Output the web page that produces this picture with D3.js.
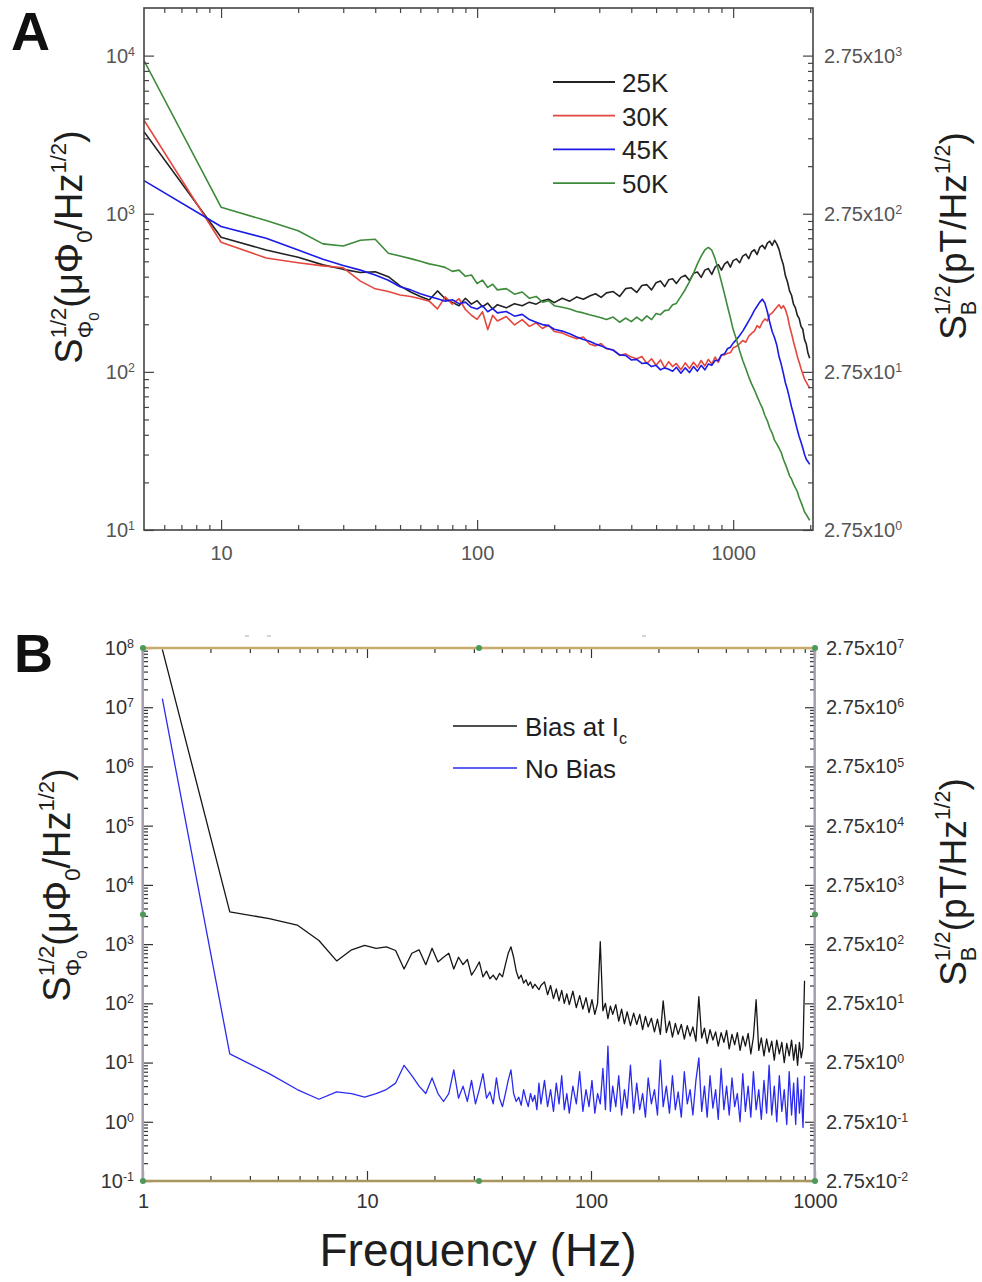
<!DOCTYPE html>
<html>
<head>
<meta charset="utf-8">
<title>Flux noise spectra</title>
<script src="https://cdn.jsdelivr.net/npm/d3@7/dist/d3.min.js"></script>
<style>
  body { margin: 0; background: #fff; }
  svg { display: block; }
  text { font-family: "Liberation Sans", Arial, sans-serif; }
</style>
</head>
<body>
<svg id="chart" width="982" height="1282"></svg>
<script>
// ---- Panel A: noise vs temperature ----
const freqA = [5, 10, 15, 20, 25, 30, 35, 40, 45, 50, 55, 60, 65, 70, 75, 80, 85, 90, 95, 100,
  105, 110, 115, 120, 130, 140, 150, 160, 170, 180, 190, 200,
  215, 230, 245, 260, 275, 290, 305, 320,
  340, 360, 380, 400, 420, 440, 460, 480, 500, 520, 540, 560, 580, 600,
  625, 650, 675, 700, 725, 750, 775, 800, 825, 850, 875, 900, 925, 950, 975, 1000,
  1030, 1060, 1090, 1120, 1150, 1180, 1210, 1240, 1270, 1300, 1330, 1360, 1390, 1420, 1450, 1480, 1510,
  1540, 1570, 1600, 1630, 1660, 1690, 1720, 1750, 1780, 1810, 1840, 1870, 1900, 1930, 1960, 1990];

const noise25K = [3300, 710, 590, 530, 475, 445, 425, 430, 400, 350, 320, 300, 285, 325, 290, 275, 262, 292, 268, 282,
  258, 272, 250, 266, 254, 270, 262, 276, 268, 282, 288, 274,
  292, 280, 298, 288, 302, 312, 296, 316,
  322, 300, 336, 340, 318, 352, 356, 330, 366, 376, 346, 382, 388, 362,
  396, 408, 378, 420, 428, 396, 440, 450, 414, 460, 476, 440, 480, 498, 460, 505,
  518, 490, 540, 556, 520, 574, 592, 552, 612, 632, 600, 652, 670, 630, 680, 645, 595,
  525, 475, 405, 370, 325, 305, 268, 254, 228, 218, 194, 186, 160, 150, 131, 122];

const noise30K = [3900, 660, 525, 490, 468, 455, 375, 335, 322, 306, 300, 290, 280, 250, 298, 268, 290, 248, 228, 215,
  240, 185, 228, 210, 224, 198, 214, 194, 204, 188, 198, 180,
  176, 168, 162, 166, 150, 146, 151, 140,
  138, 127, 130, 124, 121, 125, 113, 121, 110, 119, 106, 116, 108, 113,
  103, 114, 105, 115, 107, 118, 109, 120, 112, 124, 115, 128, 128, 131, 132, 142,
  145, 151, 158, 154, 168, 175, 181, 196, 190, 206, 216, 210, 230, 236, 246, 256, 266,
  252, 262, 248, 225, 195, 175, 155, 140, 125, 115, 105, 97, 90, 86, 82, 80];

const noise45K = [1620, 830, 700, 590, 515, 470, 440, 410, 380, 345, 330, 312, 300, 290, 280, 286, 270, 276, 256, 250,
  262, 240, 251, 236, 241, 225, 231, 214, 206, 199, 196, 186,
  181, 174, 166, 160, 156, 150, 146, 141,
  137, 128, 127, 119, 120, 113, 114, 108, 110, 103, 106, 104, 101, 107,
  98, 106, 99, 108, 101, 110, 103, 112, 110, 118, 118, 128, 130, 140, 143, 152,
  160, 170, 181, 195, 210, 226, 245, 260, 276, 288, 272, 240, 205, 180, 165, 148, 125,
  112, 98, 85, 77, 68, 60, 54, 48, 43, 39, 36, 33, 30, 28, 27, 26];

const noise50K = [9300, 1100, 905, 780, 645, 625, 680, 690, 562, 540, 520, 500, 482, 470, 458, 432, 440, 402, 410, 362,
  380, 342, 358, 330, 336, 310, 320, 292, 300, 276, 282, 262,
  256, 250, 241, 236, 230, 225, 220, 214,
  222, 206, 219, 208, 222, 210, 226, 214, 234, 230, 244, 246, 266, 271,
  300, 332, 372, 420, 482, 540, 590, 612, 588, 520, 440, 370, 310, 260, 220, 185,
  160, 136, 118, 105, 93, 84, 77, 70, 64, 59, 53, 49, 44, 41, 37, 35, 33, 31, 28,
  26, 24, 22, 21, 19.5, 18.5, 17.5, 16, 15, 14, 13, 12.5, 12, 11.5];

const labelsA = ["25K", "30K", "45K", "50K"];
const colorsA = ["#222222", "#e4473d", "#1b1be8", "#3d8a3a"];

// ---- Panel B: biased vs unbiased ----
const freqB = [1.22, 2.44, 3.66, 4.88, 6.10, 7.32, 8.54, 9.76, 10.98, 12.20,
  13.42, 14.64, 15.86, 17.08, 18.30, 19.52, 20.74, 21.96, 23.18, 24.40,
  25.62, 26.84, 28.06, 29.28, 30.50, 31.72, 32.94, 34.16, 35.38, 36.60,
  37.82, 39.04, 40.26, 41.48, 42.70, 43.92, 45.14, 46.36, 47.58, 48.80,
  50.02, 51.24, 52.46, 53.68, 54.90, 56.12, 57.34, 58.56, 59.78,
  62, 64, 66, 68, 70, 72, 74, 76, 78, 80,
  83, 86, 89, 92, 95, 98, 101, 104, 107, 110,
  113, 116, 119, 122, 125, 129, 133, 137, 141, 145,
  150, 155, 160, 165, 170, 175, 180, 186, 192, 198,
  204, 210, 217, 224, 231, 238, 245, 253, 261, 269,
  277, 285, 294, 303, 312, 321, 330, 340, 350, 360,
  370, 381, 392, 403, 414, 426, 438, 450, 463, 476,
  489, 503, 517, 531, 546, 561, 576, 592, 608, 624,
  641, 658, 675, 693, 711, 729, 748, 767, 786, 803,
  820, 836, 852, 868, 884, 898];

const biasAtIc = [9.5e7, 3500, 2700, 2100, 1150, 520, 800, 950, 850, 900,
  780, 380, 700, 800, 450, 850, 500, 600, 700, 380,
  600, 450, 550, 300, 380, 500, 280, 350, 260, 300,
  250, 320, 280, 450, 700, 900, 600, 350, 260, 300,
  220, 250, 200, 230, 180, 210, 190, 170, 200,
  230, 140, 200, 120, 175, 110, 165, 100, 145, 95,
  160, 85, 135, 80, 125, 70, 115, 65, 100, 1100,
  75, 100, 55, 90, 65, 95, 50, 80, 45, 72,
  42, 68, 44, 65, 36, 60, 40, 56, 33, 54,
  30, 110, 32, 50, 27, 46, 30, 44, 25, 42,
  28, 40, 23, 130, 26, 38, 21, 36, 24, 33,
  19, 32, 22, 35, 17, 30, 20, 32, 16, 28,
  19, 31, 14, 27, 115, 16, 26, 13, 25, 15,
  23, 11, 24, 14, 22, 10, 21, 13, 24, 11,
  20, 9, 22, 12, 18, 240];

const noBias = [1.4e7, 14, 6.5, 3.5, 2.4, 3.2, 3.0, 2.6, 3.0, 3.5,
  4.5, 9, 6, 4, 3, 5.5, 3, 2.2, 3, 7.5,
  2.5, 4, 2.2, 5, 2.0, 3.5, 6.5, 2.5, 3.2, 2.0,
  5.5, 2.5, 1.8, 3.0, 5, 7.5, 3, 2.2, 2.6, 1.9,
  3.5, 2.4, 1.8, 3, 2.2, 2.8, 1.6, 4.5, 2,
  5, 1.8, 3.5, 1.5, 4.5, 2, 6, 1.6, 3, 1.4,
  4, 2, 7, 1.5, 3.5, 1.8, 5, 1.4, 3, 2,
  8, 1.6, 19, 1.5, 4, 1.8, 6, 1.3, 3.5, 1.7,
  9, 1.4, 4.5, 1.6, 3, 1.2, 5.5, 2, 3.5, 1.3,
  11, 1.8, 4, 1.4, 6, 1.6, 3.2, 1.2, 7, 2,
  3.5, 1.3, 5, 12, 1.5, 4, 1.2, 6, 1.7, 3.5,
  1.1, 8, 1.6, 4, 1.3, 5.5, 1.8, 3, 1.0, 6.5,
  1.5, 4, 1.2, 7, 1.6, 3.5, 1.1, 5, 1.4, 9,
  1.3, 4, 1.0, 6, 1.5, 3.5, 0.9, 7, 1.3, 4.5,
  0.9, 5.5, 1.4, 3.5, 0.8, 6];

const colorsB = ["#151515", "#2b2bf0"];

// right axes: field noise = flux noise * 0.275 (pT per μΦ0)
const fieldPerFlux = 0.275;

const svg = d3.select("#chart");
const FONT = "Liberation Sans, Arial, sans-serif";

// decades inside a log domain
function decadeTicks(domain) {
  const out = [];
  const lo = Math.ceil(Math.log10(domain[0]) - 1e-9);
  const hi = Math.floor(Math.log10(domain[1]) + 1e-9);
  for (let e = lo; e <= hi; e++) out.push(Math.pow(10, e));
  return out;
}

// 2..9 minor ticks of every decade
function minorTicks(domain) {
  const out = [];
  const lo = Math.floor(Math.log10(domain[0]));
  const hi = Math.floor(Math.log10(domain[1]));
  for (let e = lo; e <= hi; e++) {
    for (let k = 2; k <= 9; k++) {
      const v = k * Math.pow(10, e);
      if (v > domain[0] * 1.0001 && v < domain[1] * 0.9999) out.push(v);
    }
  }
  return out;
}

function powerLabel(text, base, exp) {
  text.text(null);
  text.append("tspan").text(base);
  text.append("tspan").attr("dy", "-0.55em").attr("font-size", "0.62em").text(exp);
}

// text with sub/superscripts, parts measured one by one
function richText(parent, parts, size, anchor) {
  const g = parent.append("g");
  let cursor = 0, maxEnd = 0, prevStart = 0;
  parts.forEach(p => {
    const start = p.stack ? prevStart : (p.tight ? cursor : maxEnd);
    const t = g.append("text")
      .attr("x", start)
      .attr("y", (p.sh || 0) * size)
      .attr("font-size", size * (p.s || 1))
      .attr("fill", "#1e1e1e")
      .text(p.t);
    const w = t.node().getComputedTextLength();
    prevStart = start;
    cursor = start + w;
    maxEnd = Math.max(maxEnd, cursor);
  });
  if (anchor === "middle") {
    g.selectAll("text").attr("x", function() { return +this.getAttribute("x") - maxEnd / 2; });
  }
  return g;
}

const fluxTitle = [
  { t: "S" }, { t: "1/2", s: 0.58, sh: -0.42 }, { t: "Φ", s: 0.58, sh: 0.3, stack: true },
  { t: "0", s: 0.4, sh: 0.45, tight: true },
  { t: "(μΦ" }, { t: "0", s: 0.58, sh: 0.25 }, { t: "/Hz" }, { t: "1/2", s: 0.58, sh: -0.42 }, { t: ")" }
];
const fieldTitle = [
  { t: "S" }, { t: "1/2", s: 0.58, sh: -0.42 }, { t: "B", s: 0.58, sh: 0.26, stack: true },
  { t: "(pT/Hz" }, { t: "1/2", s: 0.58, sh: -0.42 }, { t: ")" }
];

function drawAxes(x, y, opt) {
  const g = svg.append("g");
  const [xl, xr] = x.range();
  const [yb, yt] = y.range();
  const yR = d3.scaleLog().domain(y.domain().map(v => v * fieldPerFlux)).range(y.range());

  const style = sel => {
    sel.attr("font-family", FONT).attr("font-size", opt.labelSize);
    sel.select(".domain").remove();
    sel.selectAll(".tick line").attr("stroke", opt.tickColor).attr("stroke-width", 1.2);
    sel.selectAll(".tick text").attr("fill", opt.labelColor);
  };
  const major = x.domain(), yMajor = decadeTicks(y.domain());

  // bottom + top
  g.append("g").attr("transform", `translate(0,${yb})`)
    .call(d3.axisBottom(x).tickValues(decadeTicks(major)).tickSize(-10).tickPadding(opt.xPad).tickFormat(d3.format("d")))
    .call(style);
  g.append("g").attr("transform", `translate(0,${yb})`)
    .call(d3.axisBottom(x).tickValues(minorTicks(major)).tickSize(-5).tickFormat(""))
    .call(style);
  g.append("g").attr("transform", `translate(0,${yt})`)
    .call(d3.axisTop(x).tickValues(decadeTicks(major)).tickSize(-10).tickFormat(""))
    .call(style);
  g.append("g").attr("transform", `translate(0,${yt})`)
    .call(d3.axisTop(x).tickValues(minorTicks(major)).tickSize(-5).tickFormat(""))
    .call(style);

  // left
  g.append("g").attr("transform", `translate(${xl},0)`)
    .call(d3.axisLeft(y).tickValues(yMajor).tickSize(-10).tickPadding(opt.yPad))
    .call(style)
    .call(a => a.selectAll(".tick text").each(function(d) {
      powerLabel(d3.select(this), "10", Math.round(Math.log10(d)));
    }));
  g.append("g").attr("transform", `translate(${xl},0)`)
    .call(d3.axisLeft(y).tickValues(minorTicks(y.domain())).tickSize(-5).tickFormat(""))
    .call(style);

  // right, in field units
  g.append("g").attr("transform", `translate(${xr},0)`)
    .call(d3.axisRight(yR).tickValues(yMajor.map(v => v * fieldPerFlux)).tickSize(-10).tickPadding(opt.yPad + 2))
    .call(style)
    .call(a => a.selectAll(".tick text").each(function(d) {
      powerLabel(d3.select(this), "2.75x10", Math.round(Math.log10(d / 2.75)));
    }));
  g.append("g").attr("transform", `translate(${xr},0)`)
    .call(d3.axisRight(yR).tickValues(minorTicks(y.domain()).map(v => v * fieldPerFlux)).tickSize(-5).tickFormat(""))
    .call(style);
  return g;
}

function drawSeries(x, y, freq, values, color, width, clipId) {
  const line = d3.line().x(d => x(d[0])).y(d => y(d[1]));
  svg.append("path")
    .datum(d3.zip(freq, values))
    .attr("clip-path", `url(#${clipId})`)
    .attr("fill", "none")
    .attr("stroke", color)
    .attr("stroke-width", width)
    .attr("stroke-linejoin", "round")
    .attr("d", line);
}

function addClip(id, x, y) {
  svg.append("clipPath").attr("id", id).append("rect")
    .attr("x", x.range()[0]).attr("y", y.range()[1])
    .attr("width", x.range()[1] - x.range()[0])
    .attr("height", y.range()[0] - y.range()[1]);
}

// ================= Panel A =================
const xA = d3.scaleLog().domain([5, 2050]).range([144, 813]);
const yA = d3.scaleLog().domain([10, 2e4]).range([530, 8]);
addClip("clipA", xA, yA);

[noise25K, noise30K, noise45K, noise50K].forEach((vals, i) => {
  drawSeries(xA, yA, freqA, vals, colorsA[i], 1.6, "clipA");
});

drawAxes(xA, yA, { tickColor: "#444", labelColor: "#555", labelSize: 20, xPad: 16, yPad: 9 });

svg.append("rect")
  .attr("x", 144).attr("y", 8).attr("width", 813 - 144).attr("height", 530 - 8)
  .attr("fill", "none").attr("stroke", "#444").attr("stroke-width", 1.6);

// legend A
const legA = svg.append("g").attr("transform", "translate(553,82)");
labelsA.forEach((name, i) => {
  const row = legA.append("g").attr("transform", `translate(0,${i * 33.7})`);
  row.append("line").attr("x1", 0).attr("x2", 62).attr("stroke", colorsA[i]).attr("stroke-width", 1.8);
  row.append("text").attr("x", 69).attr("y", 10).attr("font-size", 26).attr("fill", "#222").text(name);
});

richText(svg.append("g").attr("transform", "translate(82,247) rotate(-90)"), fluxTitle, 38, "middle");
richText(svg.append("g").attr("transform", "translate(966,236) rotate(-90)"), fieldTitle, 37, "middle");

svg.append("text").attr("x", 11).attr("y", 50)
  .attr("font-size", 54).attr("font-weight", "bold").attr("fill", "#111").text("A");

// ================= Panel B =================
const xB = d3.scaleLog().domain([1, 1000]).range([143, 815]);
const yB = d3.scaleLog().domain([0.1, 1e8]).range([1181, 648]);
addClip("clipB", xB, yB);

drawSeries(xB, yB, freqB, biasAtIc, colorsB[0], 1.3, "clipB");
drawSeries(xB, yB, freqB, noBias, colorsB[1], 1.3, "clipB");

drawAxes(xB, yB, { tickColor: "#333", labelColor: "#333", labelSize: 20, xPad: 13, yPad: 9 });

// frame of panel B: tan horizontal edges, bluish vertical edges
const frameB = svg.append("g");
frameB.append("line").attr("x1", 143).attr("x2", 815).attr("y1", 648).attr("y2", 648)
  .attr("stroke", "#c6ad6e").attr("stroke-width", 2.4);
frameB.append("line").attr("x1", 143).attr("x2", 815).attr("y1", 1181).attr("y2", 1181)
  .attr("stroke", "#a8965e").attr("stroke-width", 2.4);
[143, 815].forEach(xx => {
  frameB.append("line").attr("x1", xx).attr("x2", xx).attr("y1", 648).attr("y2", 1181)
    .attr("stroke", "#b8a978").attr("stroke-width", 2);
  frameB.append("line").attr("x1", xx - 1).attr("x2", xx - 1).attr("y1", 648).attr("y2", 1181)
    .attr("stroke", "#8f8fdc").attr("stroke-width", 1);
});

// selection handles left on the frame
const xMid = Math.sqrt(xB.domain()[0] * xB.domain()[1]);
const yMid = Math.sqrt(yB.domain()[0] * yB.domain()[1]);
const handles = [
  [1, 1e8], [xMid, 1e8], [1000, 1e8],
  [1, yMid], [1000, yMid],
  [1, 0.1], [xMid, 0.1], [1000, 0.1]
];
svg.append("g").selectAll("circle").data(handles).join("circle")
  .attr("cx", d => xB(d[0])).attr("cy", d => yB(d[1])).attr("r", 3)
  .attr("fill", "#4c9a5a");

// faint marks above the frame
svg.append("g").selectAll("line").data([247, 269, 644]).join("line")
  .attr("x1", d => d - 2).attr("x2", d => d + 2).attr("y1", 636).attr("y2", 636)
  .attr("stroke", "#aaa").attr("stroke-width", 1);

// legend B
const legB = svg.append("g").attr("transform", "translate(453,726)");
legB.append("line").attr("x1", 0).attr("x2", 64).attr("stroke", colorsB[0]).attr("stroke-width", 1.6);
richText(legB.append("g").attr("transform", "translate(72,10)"),
  [{ t: "Bias at I" }, { t: "c", s: 0.62, sh: 0.32 }], 26, "start");
legB.append("line").attr("x1", 0).attr("x2", 64).attr("y1", 42).attr("y2", 42)
  .attr("stroke", colorsB[1]).attr("stroke-width", 1.6);
legB.append("text").attr("x", 72).attr("y", 52).attr("font-size", 26).attr("fill", "#1e1e1e").text("No Bias");

richText(svg.append("g").attr("transform", "translate(70,885) rotate(-90)"), fluxTitle, 38, "middle");
richText(svg.append("g").attr("transform", "translate(966,882) rotate(-90)"), fieldTitle, 37, "middle");

svg.append("text").attr("x", 14).attr("y", 672)
  .attr("font-size", 54).attr("font-weight", "bold").attr("fill", "#111").text("B");

svg.append("text").attr("x", 478).attr("y", 1266).attr("text-anchor", "middle")
  .attr("font-size", 46).attr("fill", "#1e1e1e").text("Frequency (Hz)");
</script>
</body>
</html>
